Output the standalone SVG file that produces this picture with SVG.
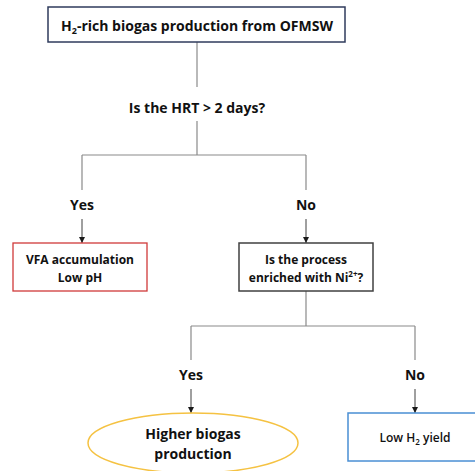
<svg xmlns="http://www.w3.org/2000/svg" width="475" height="471" viewBox="0 0 475 471">
<style>
text{font-family:"Open Sans","Liberation Sans",sans-serif;font-weight:bold;fill:#111111;text-anchor:middle}
.t14{font-size:14px}
.t13{font-size:12px}
.t12{font-size:12px;font-weight:600}
.ln{stroke:#8a8a8a;stroke-width:1.2;fill:none}
.ar{stroke:#404040;stroke-width:1;fill:none;marker-end:url(#ah)}
</style>
<defs>
<marker id="ah" viewBox="0 0 8 8" refX="8" refY="4" markerWidth="6" markerHeight="6" orient="auto" markerUnits="userSpaceOnUse">
<path d="M0,0 L8,4 L0,8 z" fill="#1a1a1a"/>
</marker>
</defs>
<rect width="475" height="471" fill="#ffffff"/>
<g id="connectors">
<path class="ln" d="M197,42 V87"/>
<path class="ln" d="M197,121 V155 M82,155 H306 M82,155 V190 M306,155 V190"/>
<path class="ar" d="M82,219 V243"/>
<path class="ar" d="M306,219 V243"/>
<path class="ln" d="M306,291 V326 M191,326 H415 M191,326 V360 M415,326 V360"/>
<path class="ar" d="M191,389 V413"/>
<path class="ar" d="M415,389 V413"/>
</g>
<g id="start">
<rect x="48" y="7" width="297" height="35" fill="#fff" stroke="#2f3b5c" stroke-width="1.5"/>
<text class="t14" x="197" y="31">H<tspan font-size="9" dy="3">2</tspan><tspan dy="-3">-rich biogas production from OFMSW</tspan></text>
</g>
<g id="q1">
<text class="t14" x="197" y="113">Is the HRT &gt; 2 days?</text>
</g>
<g id="yes1"><text class="t14" x="82" y="210">Yes</text></g>
<g id="no1"><text class="t14" x="306" y="210">No</text></g>
<g id="vfa">
<rect x="13" y="243" width="134" height="48" fill="#fff" stroke="#d03a3a" stroke-width="1.3"/>
<text class="t13" x="80" y="264">VFA accumulation</text>
<text class="t13" x="80" y="282">Low pH</text>
</g>
<g id="q2">
<rect x="239" y="243" width="134" height="48" fill="#fff" stroke="#404040" stroke-width="1.5"/>
<text class="t13" x="306" y="264">Is the process</text>
<text class="t13" x="306" y="282">enriched with Ni<tspan font-size="8" dy="-5">2+</tspan><tspan dy="5">?</tspan></text>
</g>
<g id="yes2"><text class="t14" x="191" y="380">Yes</text></g>
<g id="no2"><text class="t14" x="415" y="380">No</text></g>
<g id="higher">
<ellipse cx="193" cy="443" rx="105" ry="30" fill="#fff" stroke="#f5c242" stroke-width="1.5"/>
<text class="t14" x="193" y="439">Higher biogas</text>
<text class="t14" x="193" y="459">production</text>
</g>
<g id="lowh2">
<rect x="348" y="413" width="140" height="48" fill="#fff" stroke="#4a8fd4" stroke-width="1.5"/>
<text class="t12" x="415" y="442">Low H<tspan font-size="8" dy="3">2</tspan><tspan dy="-3"> yield</tspan></text>
</g>
</svg>
